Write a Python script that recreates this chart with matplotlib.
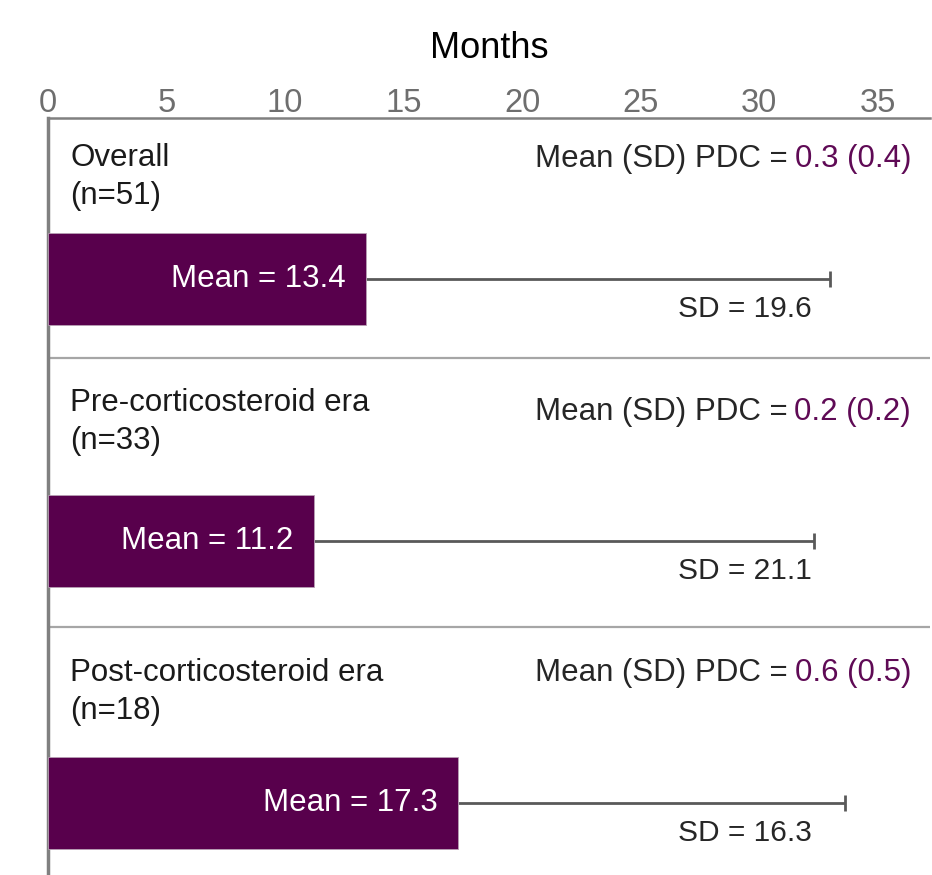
import matplotlib
matplotlib.use("Agg")
import matplotlib.pyplot as plt

groups = ["Overall", "Pre-corticosteroid era", "Post-corticosteroid era"]
n_values = [51, 33, 18]
means = [13.4, 11.2, 17.3]
sds = [19.6, 21.1, 16.3]
pdc_mean = [0.3, 0.2, 0.6]
pdc_sd = [0.4, 0.2, 0.5]
xticks = [0, 5, 10, 15, 20, 25, 30, 35]

plt.rcParams["font.family"] = ["Liberation Sans", "DejaVu Sans"]

PURPLE = "#58004c"
TXT_PURPLE = "#5f0a55"
GRAY = "#808080"

# vertical layout (y measured downward from figure top, in pixels)
TOP, BOTTOM = 118, 875
bar_y = [279, 540.5, 802.5]
bar_h = 92
sep_y = [358, 627]
label_y = [(158, 196), (403, 441), (673, 711)]
pdc_y = [159, 412, 673]
sd_y = [309, 571, 833]

fig = plt.figure(figsize=(9.32, 8.75), dpi=100)
ax = fig.add_axes([48/932, 0, (930-48)/932, (BOTTOM-TOP)/875])
ax.set_xlim(0, 37.2)
ax.set_ylim(BOTTOM, TOP)

for s in ["right", "bottom"]:
    ax.spines[s].set_visible(False)
ax.spines["left"].set_color(GRAY)
ax.spines["left"].set_linewidth(2.5)
ax.spines["top"].set_color(GRAY)
ax.spines["top"].set_linewidth(1.8)
ax.xaxis.tick_top()
ax.set_xticks(xticks)
ax.set_xticklabels([str(t) for t in xticks], fontsize=23.5, color="#6e6e6e")
ax.tick_params(axis="x", length=0, pad=-1)
ax.set_yticks([])
ax.set_xlabel("Months", fontsize=26, labelpad=22)
ax.xaxis.set_label_position("top")

FS = 22.5
for i in range(3):
    yc = bar_y[i]
    ax.barh(yc, means[i], height=bar_h, color=PURPLE, edgecolor="#b8a0b4", linewidth=0.6, zorder=3)
    eb = ax.errorbar(means[i], yc, xerr=[[0], [sds[i]]], fmt="none", ecolor="#595959",
                     elinewidth=2, capsize=5.5, capthick=2, zorder=2)
    caps = eb[1]
    if len(caps) > 1:
        caps[0].set_visible(False)
    ax.text(means[i] - 0.85, yc, f"Mean = {means[i]}", ha="right", va="center",
            color="white", fontsize=FS, zorder=4)
    ax.text(29.4, sd_y[i], f"SD = {sds[i]}", ha="center", va="center",
            color="#262626", fontsize=21.5, zorder=4)
    ax.text(0.93, label_y[i][0], groups[i], ha="left", va="center",
            fontsize=FS, color="#1a1a1a")
    ax.text(0.93, label_y[i][1], f"(n={n_values[i]})", ha="left", va="center",
            fontsize=FS, color="#1a1a1a")
    t2 = ax.text(36.4, pdc_y[i], f"{pdc_mean[i]} ({pdc_sd[i]})", ha="right", va="center",
                 fontsize=FS, color=TXT_PURPLE)
    fig.canvas.draw()
    bb = t2.get_window_extent()
    inv = ax.transData.inverted()
    xl = inv.transform((bb.x0 - 7, 0))[0]
    ax.text(xl, pdc_y[i], "Mean (SD) PDC =", ha="right", va="center",
            fontsize=FS, color="#262626")

for y in sep_y:
    ax.axhline(y, color="#a6a6a6", linewidth=1.6)

fig.savefig("out.png", dpi=100)
